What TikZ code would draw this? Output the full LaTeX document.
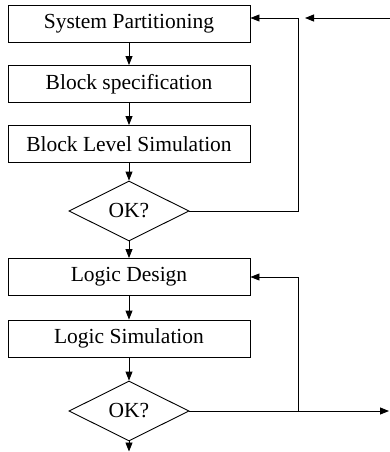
\documentclass[tikz,border=0pt]{standalone}
\usepackage{fontspec}
\setmainfont{Liberation Serif}
\usetikzlibrary{arrows.meta,shapes.geometric}
\begin{document}
\begin{tikzpicture}[x=1pt,y=-1pt,
  line width=0.9pt,
  stagebox/.style={draw,rectangle,minimum width=242pt,minimum height=37pt,inner sep=0pt,font=\fontsize{21.5}{24}\selectfont},
  decision/.style={draw,diamond,minimum width=120pt,minimum height=60pt,inner sep=0pt,aspect=2,font=\fontsize{21.5}{24}\selectfont},
  flow/.style={-{Triangle[length=9pt,width=7pt]}}]
\useasboundingbox (0,0) rectangle (390,452);
\node[stagebox] (sp) at (129,23.5) {System Partitioning};
\node[stagebox] (bs) at (129,84) {Block specification};
\node[stagebox] (bl) at (129,144) {Block Level Simulation};
\node[decision] (ok1) at (129,211) {};
\node[font=\fontsize{21.5}{24}\selectfont] at (ok1.center) {OK?};
\node[stagebox] (ld) at (129,277) {Logic Design};
\node[stagebox] (ls) at (129,338.5) {Logic Simulation};
\node[decision] (ok2) at (129,411) {};
\node[font=\fontsize{21.5}{24}\selectfont] at (ok2.center) {OK?};
\coordinate (loop1) at (298,18);
\coordinate (inA) at (390,18);
\coordinate (inB) at (305,18);
\coordinate (junc) at (298,411);
\coordinate (out) at (389,411);
\coordinate (fin) at (129,451.5);
% main flow
\draw[flow] (sp) -- (bs);
\draw[flow] (bs) -- (bl);
\draw[flow] (bl) -- (ok1.north);
\draw[flow] (ok1.south) -- (ld);
\draw[flow] (ld) -- (ls);
\draw[flow] (ls) -- (ok2.north);
\draw[flow] (ok2.south) -- (fin);
% feedback loops
\draw[flow] (ok1.east) -| (loop1) -- (loop1 -| sp.east);
\draw[flow] (inA) -- (inB);
\draw[flow] (ok2.east) -- (out);
\draw[flow] (junc) |- (ld.east);
\end{tikzpicture}
\end{document}
